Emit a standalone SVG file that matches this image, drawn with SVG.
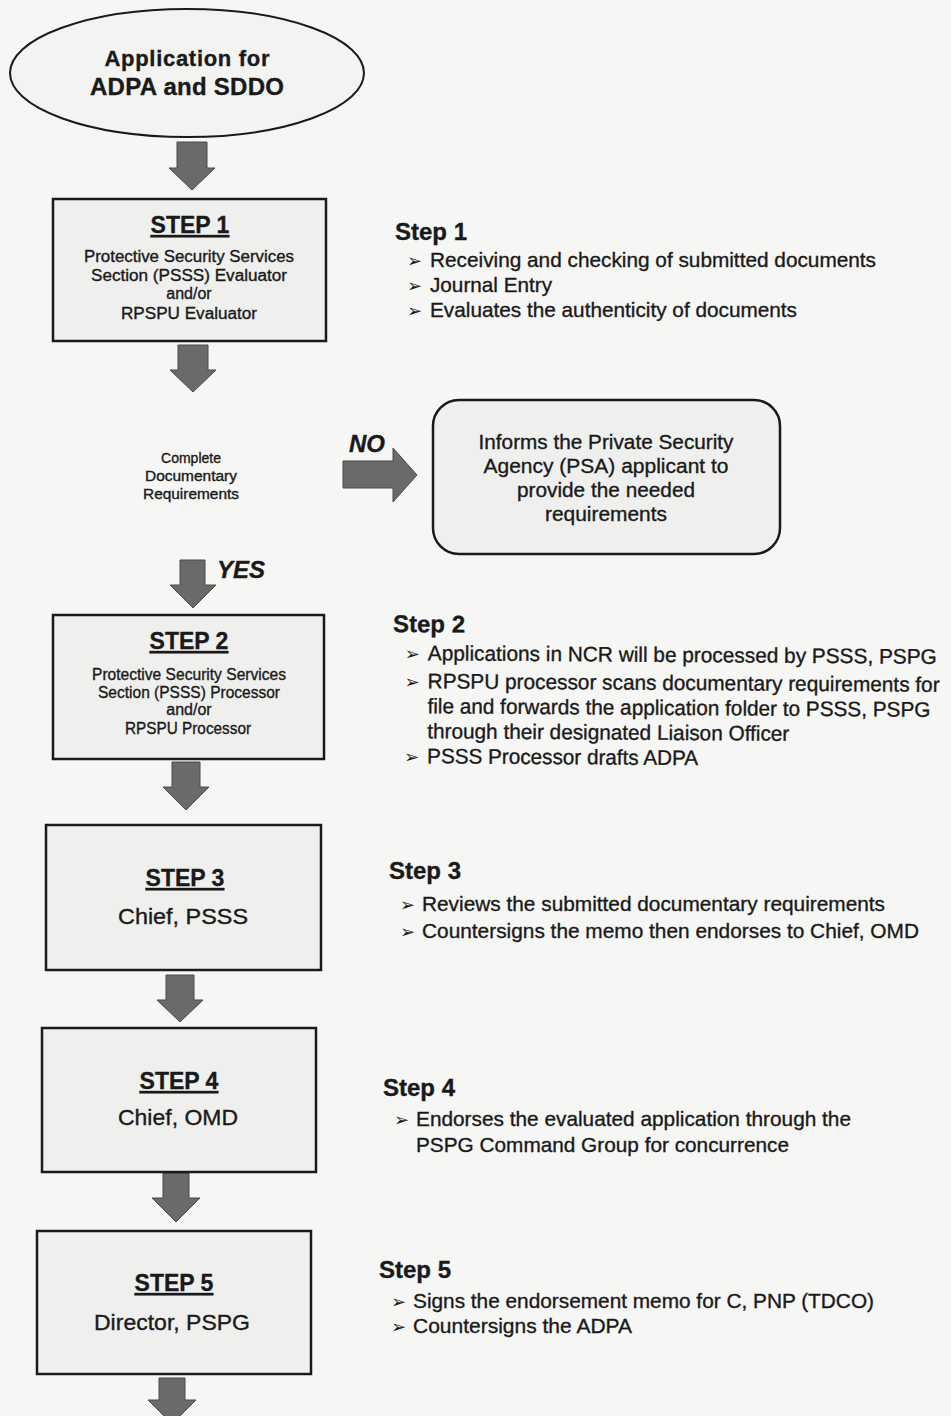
<svg xmlns="http://www.w3.org/2000/svg" width="951" height="1416" viewBox="0 0 951 1416">
<defs>
<style>
.bg{fill:#f6f6f5}
.box{fill:#efefee;stroke:#1a1a1a;stroke-width:2.5}
.arr{fill:#6a6a6a;stroke:#4a4a4a;stroke-width:1}
.t{font-family:"Liberation Sans",Arial,sans-serif;fill:#1a1a1a;stroke:#1a1a1a;stroke-width:0.35}
.b{font-weight:bold}
.c{text-anchor:middle}
.hd{font-size:23px;font-weight:bold}
.bl{font-size:21px}
.sm{font-size:16px}
.bul{font-family:"DejaVu Sans",sans-serif;font-size:18px;fill:#1a1a1a}
</style>
</defs>
<rect class="bg" x="0" y="0" width="951" height="1416"/>

<g id="connectors">
  <path class="arr" d="M177,142 H207 V168 H215 L192,190 L169,168 H177 Z"/>
  <path class="arr" d="M178,345 H208 V370 H216 L193,392 L170,370 H178 Z"/>
  <path class="arr" d="M343,461 H393 V448 L417,475 L393,502 V488 H343 Z"/>
  <path class="arr" d="M180,560 H205 V585 H216 L193,608 L170,585 H180 Z"/>
  <path class="arr" d="M172,762 H200 V787 H209 L186,810 L163,787 H172 Z"/>
  <path class="arr" d="M166,975 H194 V1000 H203 L180,1022 L157,1000 H166 Z"/>
  <path class="arr" d="M163,1173 H189 V1198 H200 L176,1222 L152,1198 H163 Z"/>
  <path class="arr" d="M159,1378 H185 V1400 H196 L172,1424 L148,1400 H159 Z"/>
</g>

<g id="start">
  <ellipse cx="187" cy="73" rx="177" ry="64" fill="#f3f3f2" stroke="#1a1a1a" stroke-width="2"/>
  <text class="t b c" x="187" y="66" font-size="22" textLength="165">Application for</text>
  <text class="t b c" x="187" y="95" font-size="24" textLength="194">ADPA and SDDO</text>
</g>

<g id="step1">
  <rect class="box" x="53" y="199" width="273" height="142"/>
  <text class="t hd c" x="190" y="233" text-decoration="underline">STEP 1</text>
  <text class="t sm c" x="189" y="262" textLength="210" lengthAdjust="spacingAndGlyphs">Protective Security Services</text>
  <text class="t sm c" x="189" y="281" textLength="196" lengthAdjust="spacingAndGlyphs">Section (PSSS) Evaluator</text>
  <text class="t sm c" x="189" y="299" font-size="15">and/or</text>
  <text class="t sm c" x="189" y="319" textLength="136" lengthAdjust="spacingAndGlyphs">RPSPU Evaluator</text>
</g>

<g id="decision">
  <text class="t c" font-size="14" x="191" y="463">Complete</text>
  <text class="t c" font-size="14" x="191" y="481" textLength="92" lengthAdjust="spacingAndGlyphs">Documentary</text>
  <text class="t c" font-size="14" x="191" y="499" textLength="96" lengthAdjust="spacingAndGlyphs">Requirements</text>
  <text class="t b" font-style="italic" font-size="24" x="349" y="452">NO</text>
  <text class="t b" font-style="italic" font-size="24" x="217" y="578">YES</text>
</g>

<g id="inform">
  <rect x="433" y="400" width="347" height="154" rx="26" ry="26" fill="#efefee" stroke="#1a1a1a" stroke-width="2.5"/>
  <text class="t c" font-size="20.5" x="606" y="449" textLength="255" lengthAdjust="spacingAndGlyphs">Informs the Private Security</text>
  <text class="t c" font-size="20.5" x="606" y="473" textLength="245" lengthAdjust="spacingAndGlyphs">Agency (PSA) applicant to</text>
  <text class="t c" font-size="20.5" x="606" y="497" textLength="178" lengthAdjust="spacingAndGlyphs">provide the needed</text>
  <text class="t c" font-size="20.5" x="606" y="521" textLength="122" lengthAdjust="spacingAndGlyphs">requirements</text>
</g>

<g id="step2">
  <rect class="box" x="53" y="615" width="271" height="144"/>
  <text class="t hd c" x="189" y="649" text-decoration="underline">STEP 2</text>
  <text class="t sm c" x="189" y="680" textLength="194" lengthAdjust="spacingAndGlyphs">Protective Security Services</text>
  <text class="t sm c" x="189" y="698" textLength="182" lengthAdjust="spacingAndGlyphs">Section (PSSS) Processor</text>
  <text class="t sm c" x="189" y="715" font-size="15">and/or</text>
  <text class="t sm c" x="188" y="734" textLength="126" lengthAdjust="spacingAndGlyphs">RPSPU Processor</text>
</g>

<g id="step3">
  <rect class="box" x="46" y="825" width="275" height="145"/>
  <text class="t hd c" x="185" y="886" text-decoration="underline">STEP 3</text>
  <text class="t c" font-size="22" x="183" y="924" textLength="130" lengthAdjust="spacingAndGlyphs">Chief, PSSS</text>
</g>

<g id="step4">
  <rect class="box" x="42" y="1028" width="274" height="144"/>
  <text class="t hd c" x="179" y="1089" text-decoration="underline">STEP 4</text>
  <text class="t c" font-size="22" x="178" y="1125" textLength="120" lengthAdjust="spacingAndGlyphs">Chief, OMD</text>
</g>

<g id="step5">
  <rect class="box" x="37" y="1231" width="274" height="143"/>
  <text class="t hd c" x="174" y="1291" text-decoration="underline">STEP 5</text>
  <text class="t c" font-size="22" x="172" y="1330" textLength="156" lengthAdjust="spacingAndGlyphs">Director, PSPG</text>
</g>

<g id="notes1">
  <text class="t b" font-size="24" x="395" y="240">Step 1</text>
  <text class="bul" x="407" y="267">➢</text>
  <text class="t bl" x="430" y="267" textLength="446" lengthAdjust="spacingAndGlyphs">Receiving and checking of submitted documents</text>
  <text class="bul" x="407" y="292">➢</text>
  <text class="t bl" x="430" y="292" textLength="122" lengthAdjust="spacingAndGlyphs">Journal Entry</text>
  <text class="bul" x="407" y="317">➢</text>
  <text class="t bl" x="430" y="317" textLength="367" lengthAdjust="spacingAndGlyphs">Evaluates the authenticity of documents</text>
</g>

<g id="notes2" transform="rotate(0.4 393 632)">
  <text class="t b" font-size="24" x="393" y="632">Step 2</text>
  <text class="bul" x="405" y="660">➢</text>
  <text class="t bl" x="428" y="660" textLength="509" lengthAdjust="spacingAndGlyphs">Applications in NCR will be processed by PSSS, PSPG</text>
  <text class="bul" x="405" y="688">➢</text>
  <text class="t bl" x="428" y="688" textLength="512" lengthAdjust="spacingAndGlyphs">RPSPU processor scans documentary requirements for</text>
  <text class="t bl" x="428" y="713" textLength="503" lengthAdjust="spacingAndGlyphs">file and forwards the application folder to PSSS, PSPG</text>
  <text class="t bl" x="428" y="738" textLength="362" lengthAdjust="spacingAndGlyphs">through their designated Liaison Officer</text>
  <text class="bul" x="405" y="763">➢</text>
  <text class="t bl" x="428" y="763" textLength="271" lengthAdjust="spacingAndGlyphs">PSSS Processor drafts ADPA</text>
</g>

<g id="notes3">
  <text class="t b" font-size="24" x="389" y="879">Step 3</text>
  <text class="bul" x="400" y="911">➢</text>
  <text class="t bl" x="422" y="911" textLength="463" lengthAdjust="spacingAndGlyphs">Reviews the submitted documentary requirements</text>
  <text class="bul" x="400" y="938">➢</text>
  <text class="t bl" x="422" y="938" textLength="497" lengthAdjust="spacingAndGlyphs">Countersigns the memo then endorses to Chief, OMD</text>
</g>

<g id="notes4">
  <text class="t b" font-size="24" x="383" y="1096">Step 4</text>
  <text class="bul" x="394" y="1126">➢</text>
  <text class="t bl" x="416" y="1126" textLength="435" lengthAdjust="spacingAndGlyphs">Endorses the evaluated application through the</text>
  <text class="t bl" x="416" y="1152" textLength="373" lengthAdjust="spacingAndGlyphs">PSPG Command Group for concurrence</text>
</g>

<g id="notes5">
  <text class="t b" font-size="24" x="379" y="1278">Step 5</text>
  <text class="bul" x="391" y="1308">➢</text>
  <text class="t bl" x="413" y="1308" textLength="461" lengthAdjust="spacingAndGlyphs">Signs the endorsement memo for C, PNP (TDCO)</text>
  <text class="bul" x="391" y="1333">➢</text>
  <text class="t bl" x="413" y="1333" textLength="219" lengthAdjust="spacingAndGlyphs">Countersigns the ADPA</text>
</g>
</svg>
